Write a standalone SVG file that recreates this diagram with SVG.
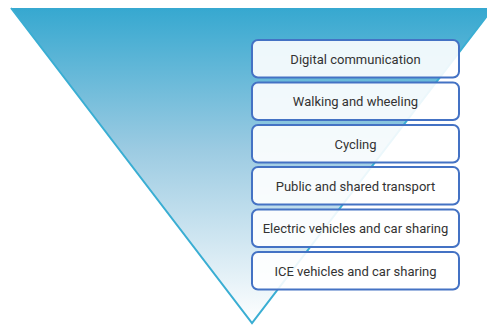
<svg xmlns="http://www.w3.org/2000/svg" width="487" height="326" viewBox="0 0 487 326">
<defs>
<linearGradient id="g" x1="0" y1="8" x2="0" y2="323" gradientUnits="userSpaceOnUse">
<stop offset="0" stop-color="#36a8d0"/>
<stop offset="0.45" stop-color="#9ccbe2"/>
<stop offset="1" stop-color="#ffffff"/>
</linearGradient>
<style>
.box rect{fill:#ffffff;fill-opacity:0.9;stroke:#4472c4;stroke-width:2}
.box text{font-family:Roboto,"Liberation Sans",sans-serif;font-size:13px;fill:#333333;text-anchor:middle}
</style>
</defs>
<g id="funnel">
<polygon points="11,8 493,8 252,323" fill="url(#g)"/>
<polyline points="11,8 252,323 493,8" fill="none" stroke="#3aaed3" stroke-width="2"/>
</g>
<g id="n1" class="box"><rect x="252" y="40" width="207" height="37.5" rx="6"/><text x="355.5" y="63.5">Digital communication</text></g>
<g id="n2" class="box"><rect x="252" y="82.5" width="207" height="37.5" rx="6"/><text x="355.5" y="106">Walking and wheeling</text></g>
<g id="n3" class="box"><rect x="252" y="125" width="207" height="37.5" rx="6"/><text x="355.5" y="148.5">Cycling</text></g>
<g id="n4" class="box"><rect x="252" y="167" width="207" height="37.5" rx="6"/><text x="355.5" y="190.5">Public and shared transport</text></g>
<g id="n5" class="box"><rect x="252" y="209.5" width="207" height="37.5" rx="6"/><text x="355.5" y="233">Electric vehicles and car sharing</text></g>
<g id="n6" class="box"><rect x="252" y="252" width="207" height="37.5" rx="6"/><text x="355.5" y="275.5">ICE vehicles and car sharing</text></g>
<g id="connectors"></g>
</svg>
